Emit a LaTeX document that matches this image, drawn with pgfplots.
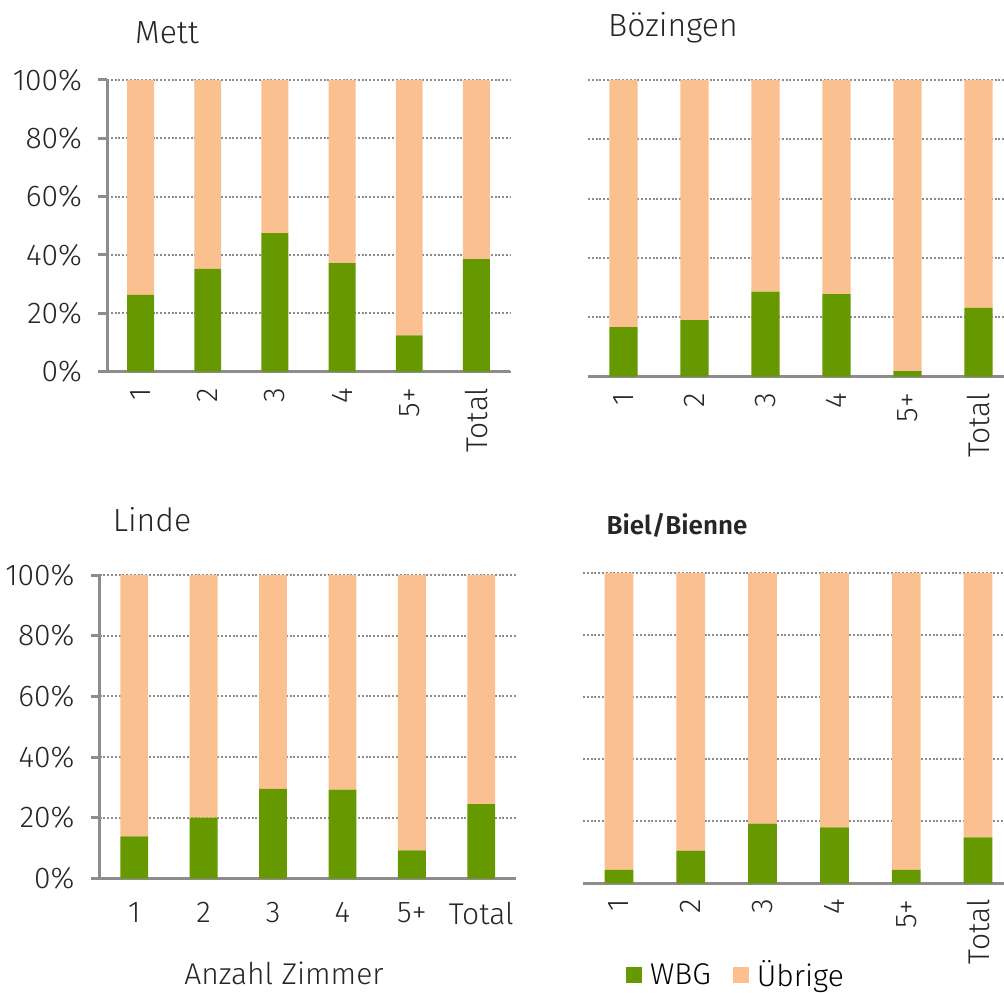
\documentclass[border=0pt]{standalone}
\usepackage{fontspec}
\setmainfont{Fira Sans}[UprightFont={* Light}, BoldFont={* SemiBold}]
\usepackage{pgfplots}
\pgfplotsset{compat=1.18}
\definecolor{wbg}{HTML}{669900}
\definecolor{ubr}{HTML}{FAC090}
\definecolor{axg}{HTML}{8C8C8C}
\pgfplotsset{
  panel/.style={
    scale only axis, ybar stacked, bar width=0.4,
    ymin=0, ymax=100, xmin=-0.5, xmax=5.5,
    xtick={0,...,5}, xticklabels={1,2,3,4,5+,Total},
    ytick={0,20,...,100},
    yticklabels={0\%,20\%,40\%,60\%,80\%,100\%},
    ymajorgrids,
    major grid style={axg, line width=1pt, dash pattern=on 1pt off 0.9pt},
    axis x line*=bottom, axis y line*=left,
    axis line style={axg, line width=1.5pt, -},
    every axis plot/.append style={draw=none},
    x tick style={draw=none},
    y tick style={axg, line width=1.5pt},
    tick align=outside, major tick length=4.5pt,
    tick label style={font=\fontsize{15}{18}\selectfont, text=black!85},
    yticklabel style={xshift=-4.5pt},
    legend style={draw=none, font=\fontsize{15}{18}\selectfont},
  },
  rotx/.style={xticklabel style={rotate=90, anchor=east}},
  noy/.style={y axis line style={draw=none}, yticklabels={}, y tick style={draw=none}},
}
\begin{document}
\begin{tikzpicture}
\path[use as bounding box] (0,0) rectangle (502pt,496pt);
% Mett
\begin{axis}[panel, rotx, at={(53.5pt,310.2pt)}, anchor=south west, width=201.5pt, height=145.8pt]
\addplot[fill=wbg] coordinates {(0,26.3) (1,35.2) (2,47.5) (3,37.2) (4,12.4) (5,38.6)};
\addplot[fill=ubr] coordinates {(0,73.7) (1,64.8) (2,52.5) (3,62.8) (4,87.6) (5,61.4)};
\end{axis}
% Boezingen
\begin{axis}[panel, rotx, noy, at={(294pt,307.65pt)}, anchor=south west, width=213pt, height=148.35pt]
\addplot[fill=wbg] coordinates {(0,16.7) (1,19.1) (2,28.7) (3,27.8) (4,1.9) (5,23.2)};
\addplot[fill=ubr] coordinates {(0,83.3) (1,80.9) (2,71.3) (3,72.2) (4,98.1) (5,76.8)};
\end{axis}
% Linde
\begin{axis}[panel, at={(49.75pt,56.75pt)}, anchor=south west, width=208.25pt, height=151.75pt,
  xticklabel style={anchor=north, yshift=-4pt}]
\addplot[fill=wbg] coordinates {(0,13.9) (1,20.1) (2,29.5) (3,29.3) (4,9.3) (5,24.5)};
\addplot[fill=ubr] coordinates {(0,86.1) (1,79.9) (2,70.5) (3,70.7) (4,90.7) (5,75.5)};
\end{axis}
% Biel
\begin{axis}[panel, rotx, noy, at={(291.5pt,54.35pt)}, anchor=south west, width=215.5pt, height=155.15pt,
  legend style={at={(0.085,-0.296)}, anchor=west, legend columns=2,
    /tikz/every even column/.append style={column sep=9pt}},
  legend image code/.code={\fill[#1] (0pt,-4pt) rectangle (8pt,4pt);}]
\addplot[fill=wbg] coordinates {(0,4.3) (1,10.5) (2,19.2) (3,18.0) (4,4.3) (5,14.8)};
\addplot[fill=ubr] coordinates {(0,95.7) (1,89.5) (2,80.8) (3,82.0) (4,95.7) (5,85.2)};
\legend{\hspace{2pt}WBG,\hspace{2pt}Übrige}
\end{axis}
\node[font=\fontsize{16}{19}\selectfont, text=black!85] at (83.5pt,479.5pt) {Mett};
\node[font=\fontsize{16}{19}\selectfont, text=black!85] at (336.5pt,482pt) {Bözingen};
\node[font=\fontsize{16}{19}\selectfont, text=black!85] at (76pt,236pt) {Linde};
\node[font=\bfseries\fontsize{13}{16}\selectfont, text=black!85] at (338.5pt,233.5pt) {Biel/Bienne};
\node[font=\fontsize{15}{18}\selectfont, text=black!85] at (142pt,9.5pt) {Anzahl Zimmer};
\end{tikzpicture}
\end{document}
